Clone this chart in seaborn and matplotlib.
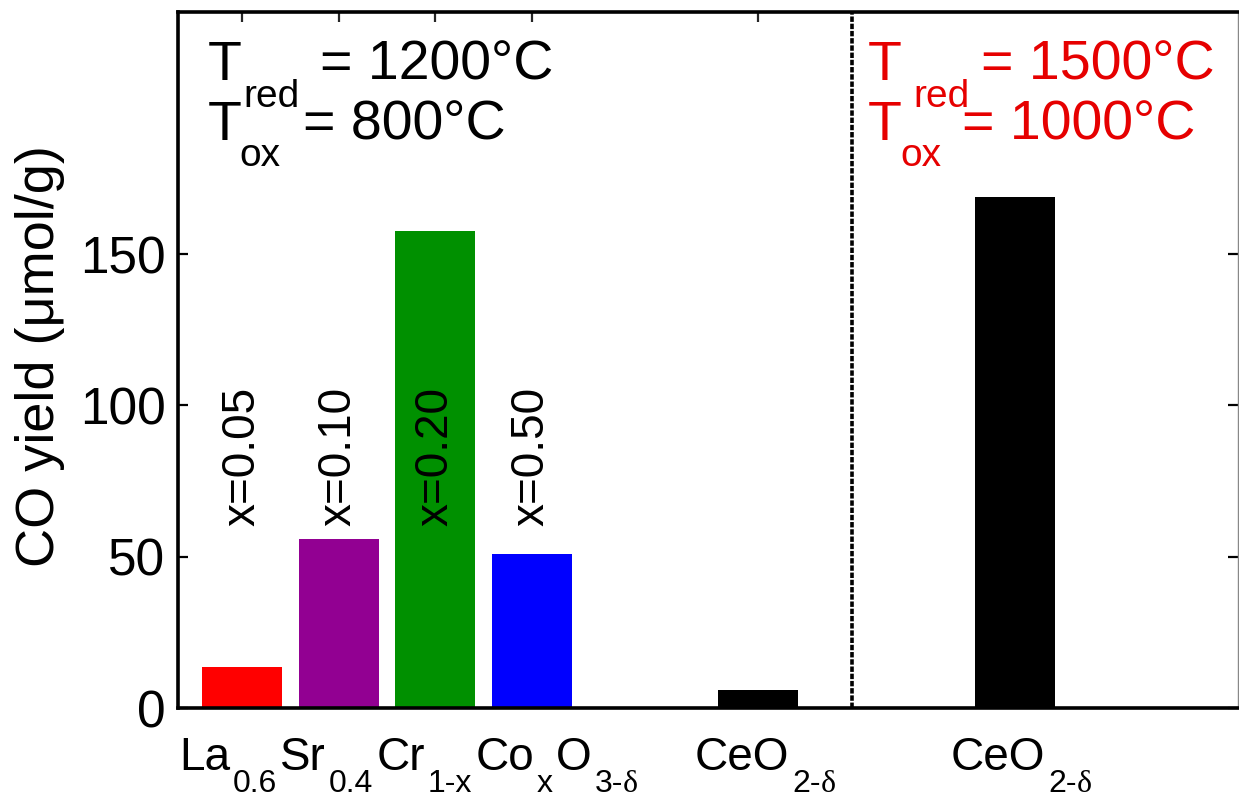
import matplotlib
matplotlib.use("Agg")
import matplotlib.pyplot as plt
import seaborn as sns
import pandas as pd

# ---- data ----
materials = ["x=0.05", "x=0.10", "x=0.20", "x=0.50", "CeO2 (1200/800)", "CeO2 (1500/1000)"]
positions = [1, 2, 3, 4, 6.34, 9]
co_yield = [13.5, 56, 157.5, 51, 6, 169]
bar_colors = ["#ff0000", "#920092", "#009000", "#0000ff", "#000000", "#000000"]
rot_labels = ["x=0.05", "x=0.10", "x=0.20", "x=0.50"]
y_ticks = [0, 50, 100, 150]
top_ticks = [1, 2, 3, 4, 6.34]
divider_x = 7.31
# group labels as (text, is_subscript) pieces
label_perovskite = [("La", 0), ("0.6", 1), ("Sr", 0), ("0.4", 1), ("Cr", 0), ("1-x", 1),
                    ("Co", 0), ("x", 1), ("O", 0), ("3-\u03b4", 1)]
label_ceria = [("CeO", 0), ("2-\u03b4", 1)]

sns.set_style("ticks")
plt.rcParams["font.family"] = ["Liberation Sans", "DejaVu Sans"]
plt.rcParams["text.color"] = "black"
plt.rcParams["axes.labelcolor"] = "black"

W, H = 1239, 801
fig = plt.figure(figsize=(W / 100, H / 100), dpi=100)
ax = fig.add_axes([178 / W, 1 - 708 / H, (1238 - 178) / W, (708 - 12) / H])

df = pd.DataFrame({"pos": positions, "yield": co_yield, "mat": materials})
sns.barplot(data=df, x="pos", y="yield", hue="mat", palette=dict(zip(materials, bar_colors)),
            native_scale=True, dodge=False, width=0.83, legend=False, ax=ax,
            saturation=1, edgecolor="none", linewidth=0)

ax.set_xlim(0.337, 11.31)
ax.set_ylim(0, 230)
ax.set_yticks(y_ticks)
ax.set_xticks(top_ticks)
ax.set_xlabel("")
ax.set_ylabel("CO yield (\u03bcmol/g)", fontsize=39)
ax.yaxis.set_label_coords(-0.107, 0.505)

ax.tick_params(axis="y", direction="in", left=True, right=True, length=7, width=1.6,
               labelsize=37, pad=9, colors="black")
ax.tick_params(axis="x", direction="in", bottom=False, top=True, labelbottom=False,
               labeltop=False, length=7, width=1.6)

for side in ["left", "bottom", "top"]:
    ax.spines[side].set_visible(True)
    ax.spines[side].set_linewidth(2.6)
    ax.spines[side].set_color("black")
ax.spines["right"].set_visible(True)
ax.spines["right"].set_linewidth(1.0)
ax.spines["right"].set_color("#888888")

ax.axvline(divider_x, color="black", lw=2.6, ls=(0, (1.5, 0.5)))

for p, lab in zip(positions[:4], rot_labels):
    ax.text(p, 60, lab, rotation=90, ha="center", va="bottom", fontsize=33)


def ftxt(x, y, s, **kw):
    return fig.text(x / W, 1 - y / H, s, va="baseline", ha="left", **kw)


# conditions annotations
ftxt(208, 80, "T", fontsize=40)
ftxt(243, 107, "red", fontsize=28)
ftxt(320, 80, "= 1200\u00b0C", fontsize=40)
ftxt(208, 140, "T", fontsize=40)
ftxt(239, 166, "ox", fontsize=28)
ftxt(303, 140, "= 800\u00b0C", fontsize=40)

red = "#e60000"
ftxt(868, 80, "T", fontsize=40, color=red)
ftxt(913, 107, "red", fontsize=28, color=red)
ftxt(981, 80, "= 1500\u00b0C", fontsize=40, color=red)
ftxt(868, 140, "T", fontsize=40, color=red)
ftxt(900, 166, "ox", fontsize=28, color=red)
ftxt(962, 140, "= 1000\u00b0C", fontsize=40, color=red)

# group labels under the axis, built from pieces with lowered subscripts
renderer = fig.canvas.get_renderer()


def chem_label(x0, pieces, base=770, sub=792, size=33, subsize=23, gap=3):
    x = x0
    for s, is_sub in pieces:
        if is_sub:
            parts = s.split("\u03b4")
            t = ftxt(x, sub, parts[0], fontsize=subsize)
            x += t.get_window_extent(renderer).width
            if len(parts) > 1:
                t = ftxt(x, sub, "\u03b4", fontsize=subsize,
                         family=["Liberation Serif", "DejaVu Serif"])
                x += t.get_window_extent(renderer).width
        else:
            t = ftxt(x, base, s, fontsize=size)
            x += t.get_window_extent(renderer).width
        x += gap


chem_label(179, label_perovskite)
chem_label(695, label_ceria)
chem_label(951, label_ceria)

fig.savefig("out.png", dpi=100)
